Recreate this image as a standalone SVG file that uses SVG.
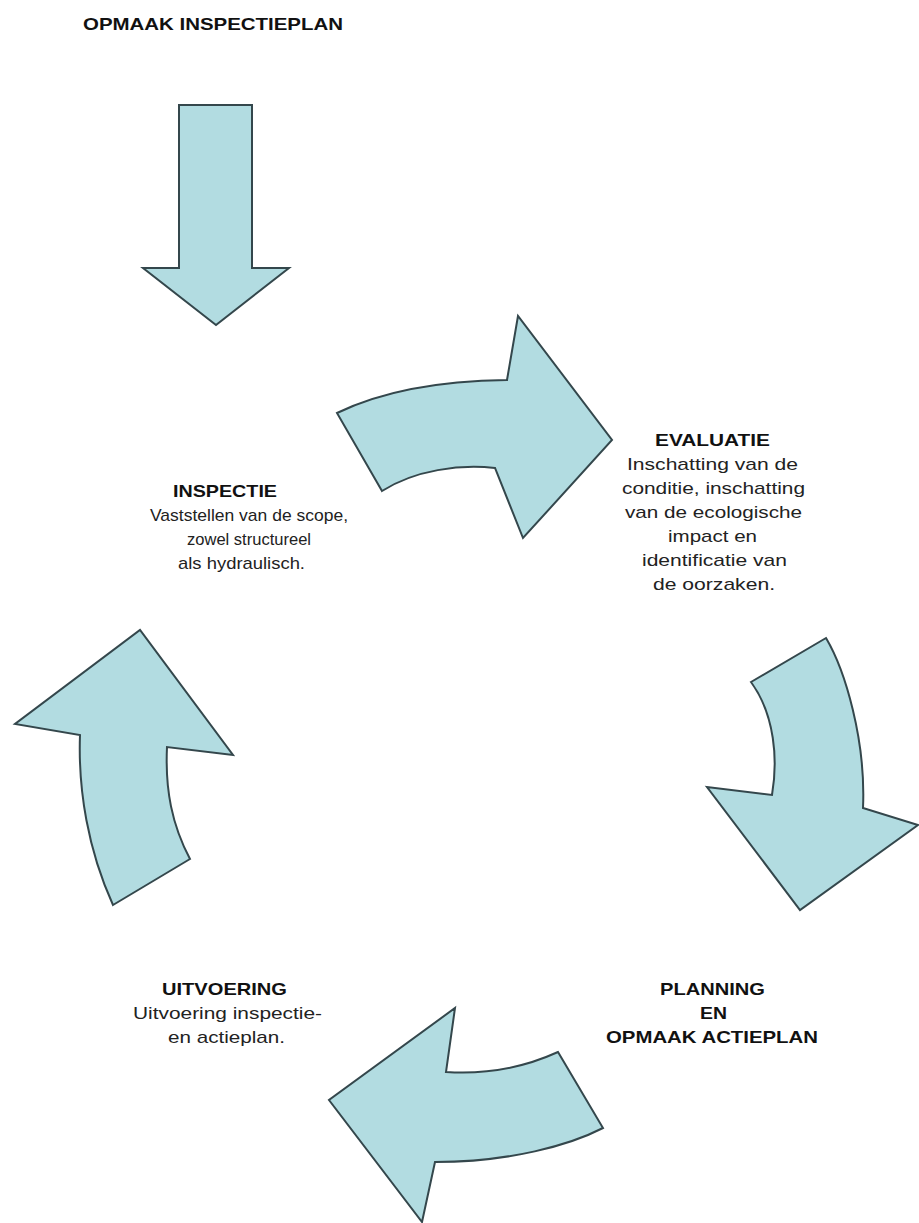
<svg xmlns="http://www.w3.org/2000/svg" width="919" height="1223" viewBox="0 0 919 1223">
<style>
.arr{fill:#b2dce1;stroke:#34474c;stroke-width:2;stroke-linejoin:miter}
.h{font-family:"Liberation Sans",Arial,sans-serif;font-weight:bold;font-size:17px;fill:#111}
.b{font-family:"Liberation Sans",Arial,sans-serif;font-size:17px;fill:#222}
</style>
<rect width="919" height="1223" fill="#fff"/>
<g id="connectors">
<path id="arrow-start" class="arr" d="M179,105 L252,105 L252,268 L289,268 L216,325 L143,268 L179,268 Z"/>
<path id="arrow-insp-eval" class="arr" d="M382,491 L337,413 C370,397 420,381 507,380 L518,316 L612,440 L523,538 L495,468 C460,464 415,470 382,491 Z"/>
<path id="arrow-eval-plan" class="arr" d="M751,682 L826,638 C845,670 866,740 863,808 L918,825 L800,910 L707,787 L772,795 C778,760 775,715 751,682 Z"/>
<path id="arrow-plan-uitv" class="arr" d="M558,1052 L603,1128 C570,1145 510,1162 435,1162 L422,1222 L329,1100 L455,1008 L446,1072 C490,1075 525,1067 558,1052 Z"/>
<path id="arrow-uitv-insp" class="arr" d="M113,905 L190,859 C172,825 165,790 167,747 L233,755 L140,630 L15,724 L80,735 C78,790 88,850 113,905 Z"/>
</g>
<g id="opmaak-inspectieplan">
<text class="h" x="83" y="30" textLength="260" lengthAdjust="spacingAndGlyphs">OPMAAK INSPECTIEPLAN</text>
</g>
<g id="inspectie">
<text class="h" x="173" y="497" textLength="104" lengthAdjust="spacingAndGlyphs">INSPECTIE</text>
<text class="b" x="150" y="521" textLength="198" lengthAdjust="spacingAndGlyphs">Vaststellen van de scope,</text>
<text class="b" x="187" y="545" textLength="124" lengthAdjust="spacingAndGlyphs">zowel structureel</text>
<text class="b" x="178" y="569" textLength="127" lengthAdjust="spacingAndGlyphs">als hydraulisch.</text>
</g>
<g id="evaluatie">
<text class="h" x="655" y="446" textLength="115" lengthAdjust="spacingAndGlyphs">EVALUATIE</text>
<text class="b" x="627" y="470" textLength="171" lengthAdjust="spacingAndGlyphs">Inschatting van de</text>
<text class="b" x="622" y="494" textLength="183" lengthAdjust="spacingAndGlyphs">conditie, inschatting</text>
<text class="b" x="625" y="518" textLength="177" lengthAdjust="spacingAndGlyphs">van de ecologische</text>
<text class="b" x="668" y="542" textLength="89" lengthAdjust="spacingAndGlyphs">impact en</text>
<text class="b" x="642" y="566" textLength="145" lengthAdjust="spacingAndGlyphs">identificatie van</text>
<text class="b" x="653" y="590" textLength="122" lengthAdjust="spacingAndGlyphs">de oorzaken.</text>
</g>
<g id="planning">
<text class="h" x="660" y="995" textLength="105" lengthAdjust="spacingAndGlyphs">PLANNING</text>
<text class="h" x="700" y="1019" textLength="27" lengthAdjust="spacingAndGlyphs">EN</text>
<text class="h" x="606" y="1043" textLength="212" lengthAdjust="spacingAndGlyphs">OPMAAK ACTIEPLAN</text>
</g>
<g id="uitvoering">
<text class="h" x="162" y="995" textLength="125" lengthAdjust="spacingAndGlyphs">UITVOERING</text>
<text class="b" x="133" y="1019" textLength="189" lengthAdjust="spacingAndGlyphs">Uitvoering inspectie-</text>
<text class="b" x="168" y="1043" textLength="117" lengthAdjust="spacingAndGlyphs">en actieplan.</text>
</g>
</svg>
